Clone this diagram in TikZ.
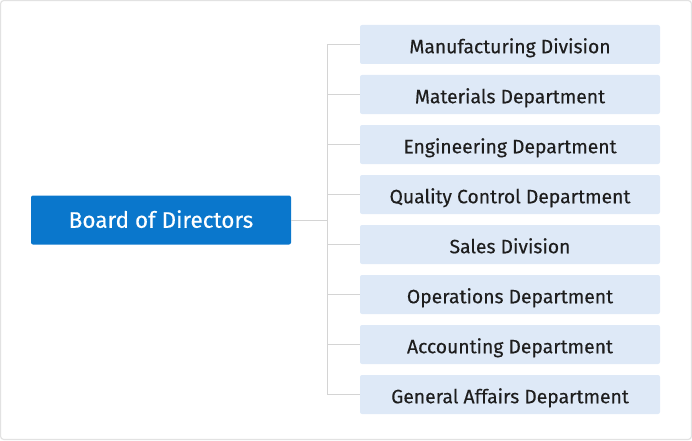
\documentclass[tikz,border=0pt]{standalone}
\usepackage{fontspec}
\setmainfont{Fira Sans}[FakeBold=0.3]
\definecolor{boardblue}{HTML}{0A77CC}
\definecolor{deptfill}{HTML}{DEE9F7}
\definecolor{linegray}{HTML}{D4D4D4}
\definecolor{framegray}{HTML}{E2E2E2}
\definecolor{txt}{HTML}{1E1E1E}
\tikzset{
  board/.style={fill=boardblue, text=white, rounded corners=2pt, minimum width=260pt, minimum height=49pt, inner sep=0pt, text height=15.5pt, text depth=0pt, font=\fontsize{22.5}{26}\selectfont},
  dept/.style={fill=deptfill, text=txt, rounded corners=2pt, minimum width=300pt, minimum height=39pt, inner sep=0pt, text height=17.5pt, text depth=0pt, font=\fontsize{19.3}{23}\selectfont},
  conn/.style={draw=linegray, line width=1pt}
}
\begin{document}
\begin{tikzpicture}[x=1pt,y=1pt]
\useasboundingbox (0,0) rectangle (692,440);
\draw[framegray, line width=1.2pt, rounded corners=3pt] (0.6,0.6) rectangle (691.4,439.4);
\node[board] (b) at (161,220) {Board of Directors};
\coordinate (mid) at (327,220);
\foreach \i/\t in {1/Manufacturing Division,2/Materials Department,3/Engineering Department,4/Quality Control Department,5/Sales Division,6/Operations Department,7/Accounting Department,8/General Affairs Department}{
  \node[dept] (d\i) at (510,{440-44.5-50*(\i-1)}) {\t};
  \draw[conn] (d\i.west) -- (d\i.west -| mid);
}
\draw[conn] (d1.west -| mid) -- (d8.west -| mid);
\draw[conn] (b.east) -- (mid);
\end{tikzpicture}
\end{document}
